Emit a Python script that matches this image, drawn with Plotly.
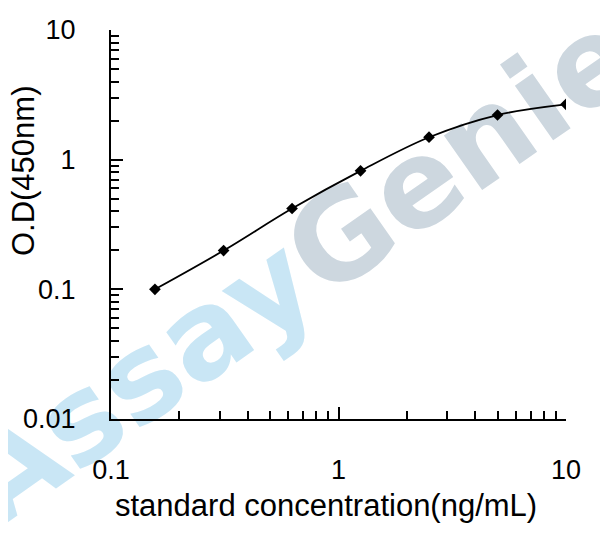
import plotly.graph_objects as go

concentration = [0.156, 0.3125, 0.625, 1.25, 2.5, 5, 10]
od450 = [0.100, 0.199, 0.420, 0.820, 1.490, 2.210, 2.670]

x_tick_vals = [0.1, 1, 10]
x_tick_text = ["0.1", "1", "10"]
y_tick_vals = [0.01, 0.1, 1, 10]
y_tick_text = ["0.01", "0.1", "1", "10"]

x_title = "standard concentration(ng/mL)"
y_title = "O.D(450nm)"
watermark_a = "Assay"
watermark_b = "Genie"

OFF = 8  # page body margin
W, H = 600, 538
L, R, T, B = 111 - OFF, 41.5, 30 - OFF, 127
FONT = "Liberation Sans, Arial, sans-serif"

fig = go.Figure()
fig.add_trace(go.Scatter(
    x=concentration, y=od450, mode="lines+markers",
    line=dict(color="black", width=1.8, shape="spline", smoothing=1),
    marker=dict(symbol="diamond", size=9, color="black"),
    showlegend=False,
))

fig.add_shape(
    type="line", xref="paper", yref="paper",
    x0=-0.16, y0=-0.349, x1=1.14, y1=0.851,
    line=dict(width=0, color="rgba(0,0,0,0)"), layer="below",
    label=dict(
        text=f'<span style="color:#c9e6f5">{watermark_a}</span><span style="color:#cdd7df">{watermark_b}</span>',
        textangle=-35, font=dict(size=122, family="DejaVu Sans, sans-serif", weight="bold", color="#c9e6f5"),
        textposition="middle",
    ),
)

axis_common = dict(
    type="log", showgrid=False, zeroline=False, showline=True,
    linecolor="black", linewidth=2, mirror=False,
    ticks="inside", ticklen=12, tickwidth=2, tickcolor="black",
    tickfont=dict(family=FONT, size=27, color="black"),
    minor=dict(ticks="inside", ticklen=8, tickwidth=1.5, tickcolor="black",
               showgrid=False, dtick="D1"),
)

fig.update_xaxes(**axis_common, range=[-1, 1], tickvals=x_tick_vals, ticktext=x_tick_text,
                 ticklabelstandoff=26)
fig.update_yaxes(**axis_common, range=[-2, 1], tickvals=y_tick_vals, ticktext=y_tick_text,
                 ticklabelstandoff=28)

pw, ph = W - L - R, H - T - B
fig.add_annotation(text=x_title, xref="paper", yref="paper",
                   x=(326 - OFF - L) / pw, y=-(505 - OFF - (H - B)) / ph,
                   showarrow=False, xanchor="center", yanchor="middle",
                   font=dict(family=FONT, size=31, color="black"))
fig.add_annotation(text=y_title, xref="paper", yref="paper",
                   x=-(L - (23 - OFF)) / pw, y=((H - B) - (171 - OFF)) / ph,
                   showarrow=False, xanchor="center", yanchor="middle", textangle=-90,
                   font=dict(family=FONT, size=31, color="black"))

fig.update_layout(
    width=W, height=H, margin=dict(l=L, r=R, t=T, b=B, autoexpand=False),
    plot_bgcolor="white", paper_bgcolor="white",
)

fig.write_html("out.html")
